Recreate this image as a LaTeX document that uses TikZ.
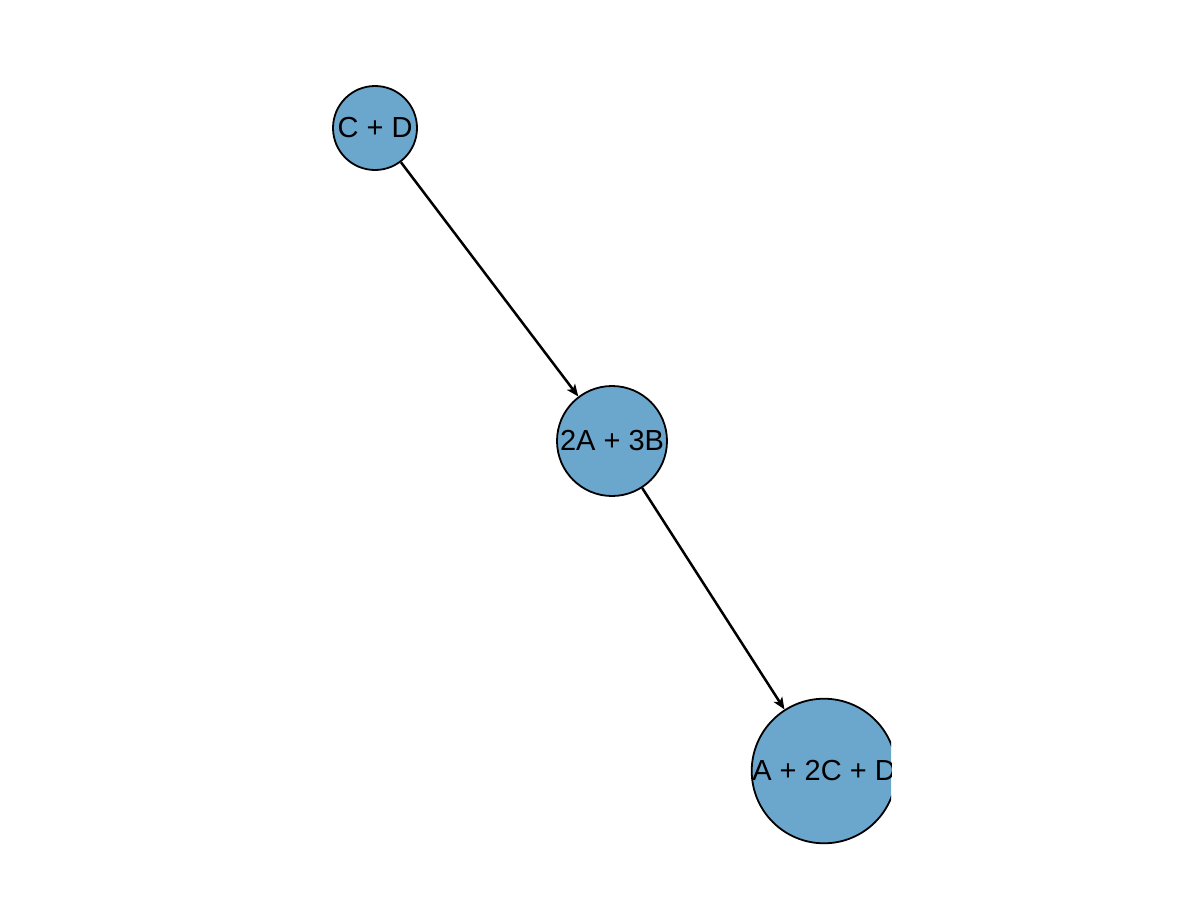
\documentclass[tikz,border=0pt]{standalone}
\usepackage{fontspec}
\setmainfont{Liberation Sans}
\usetikzlibrary{arrows.meta}
\definecolor{nodeblue}{RGB}{107,166,205}

\begin{document}
\begin{tikzpicture}
  [x=1pt,y=-1pt,
   every node/.style={circle,draw=black,line width=1.8pt,fill=nodeblue,inner sep=0pt,font=\fontsize{29}{33}\selectfont},
   reaction/.style={line width=2.5pt,-{Stealth[length=12pt,width=10pt,inset=3pt]}}]
  \useasboundingbox (0,0) rectangle (1200,900);
  \begin{scope}
  \clip (0,0) rectangle (891,900);
  \node[minimum size=84pt] (cd) at (375,128) {C + D};
  \node[minimum size=110pt] (ab) at (612,441) {2A + 3B};
  \node[minimum size=144pt] (acd) at (824,771) {A + 2C + D};

  \foreach \from/\to in {cd/ab,ab/acd}
    \draw[reaction] (\from) -- (\to);
  \end{scope}
\end{tikzpicture}
\end{document}
